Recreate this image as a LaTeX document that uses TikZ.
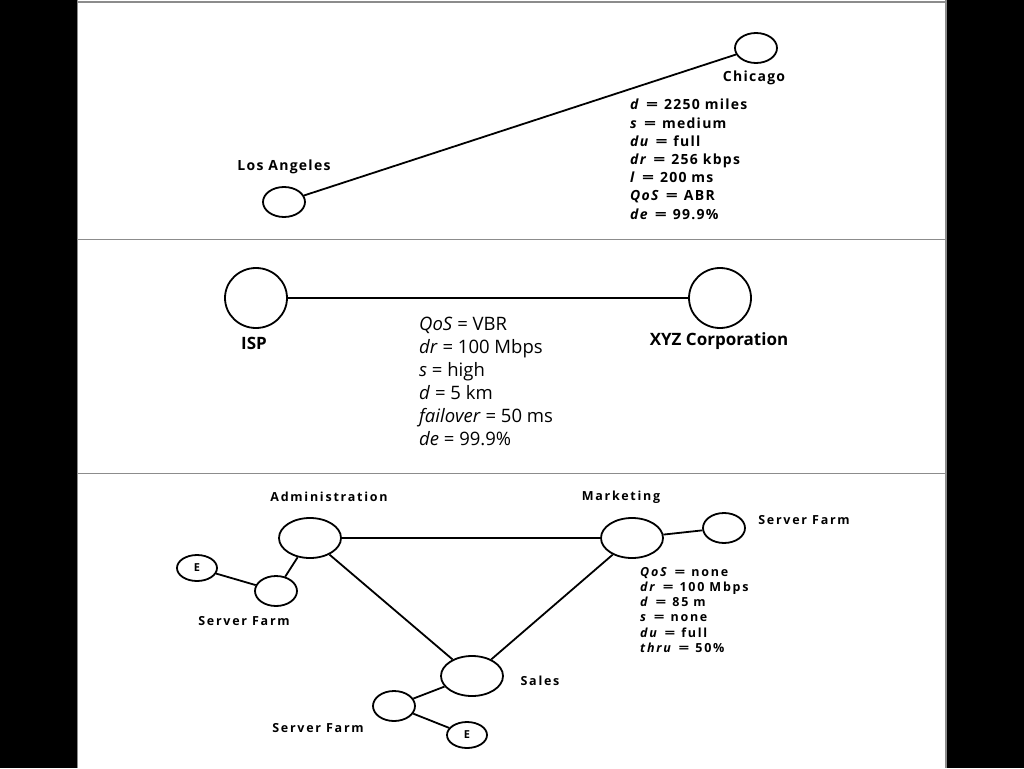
\documentclass[tikz,border=0pt]{standalone}
\usepackage{fontspec}
\setmainfont{Open Sans}
\newfontfamily\spA{Open Sans}[LetterSpace=9]
\newfontfamily\spC{Open Sans}[LetterSpace=14]
\newcommand\eqw{\hspace{6pt}\scalebox{1.5}[1]{=}\hspace{6pt}}
\usetikzlibrary{shapes.geometric}
\begin{document}
\begin{tikzpicture}[x=1pt,y=-1pt,
  site/.style={draw=black,line width=1.8pt,ellipse,inner sep=0pt,fill=white},
  big/.style={site,minimum width=62pt,minimum height=60pt},
  mid/.style={site,minimum width=62pt,minimum height=40pt},
  small/.style={site,minimum width=42pt,minimum height=30pt},
  tiny/.style={site,minimum width=40pt,minimum height=26pt,font=\spA\bfseries\fontsize{11}{13}\selectfont},
  link/.style={line width=1.8pt,draw=black},
  frame/.style={draw=black!45,line width=1.5pt},
  lblA/.style={font=\spA\bfseries\fontsize{14}{16}\selectfont,inner sep=0pt},
  lblB/.style={font=\bfseries\fontsize{17}{20}\selectfont,inner sep=0pt},
  lblC/.style={font=\spC\bfseries\fontsize{12.5}{15}\selectfont,inner sep=0pt},
  blockA/.style={font=\spA\bfseries\fontsize{14}{18.2}\selectfont,align=left,inner sep=0pt,anchor=north west},
  blockB/.style={font=\fontsize{18.5}{22.9}\selectfont,align=left,inner sep=0pt,anchor=north west},
  blockC/.style={font=\spC\bfseries\fontsize{12.5}{15.2}\selectfont,align=left,inner sep=0pt,anchor=north west}
]
\useasboundingbox (0,0) rectangle (1024,768);
\fill[black] (0,0) rectangle (77,768);
\fill[black] (947,0) rectangle (1024,768);
\fill[white] (77,0) rectangle (947,768);
\draw[frame] (77.5,2) -- (946,2);
\draw[frame] (77.5,0) -- (77.5,768);
\draw[frame] (946,0) -- (946,768);
\draw[frame] (77.5,239.5) -- (946,239.5);
\draw[frame] (77.5,473.5) -- (946,473.5);

% top panel
\node[small] (chi) at (756,48) {};
\node[small] (la) at (284,202) {};
\draw[link] (la) -- (chi);
\node[lblA] (chil) at (754,78) {Chicago};
\node[lblA] (lal) at (284,167) {Los Angeles};
\node[blockA] (ta) at (630,99) {\textit{d}\eqw 2250 miles\\ \textit{s}\eqw medium\\ \textit{du}\eqw full\\ \textit{dr}\eqw 256 kbps\\ \textit{l}\eqw 200 ms\\ \textit{QoS}\eqw ABR\\ \textit{de}\eqw 99.9\%};

% middle panel
\node[big] (isp) at (256,298) {};
\node[big] (xyz) at (720,298) {};
\draw[link] (isp) -- (xyz);
\node[lblB] (ispl) at (254,343) {ISP};
\node[lblB] (xyzl) at (719,341) {XYZ Corporation};
\node[blockB] (tb) at (419,317) {\textit{QoS} = VBR\\ \textit{dr} = 100 Mbps\\ \textit{s} = high\\ \textit{d} = 5 km\\ \textit{failover} = 50 ms\\ \textit{de} = 99.9\%};

% bottom panel
\node[mid] (adm) at (310,538) {};
\node[mid] (mkt) at (632,538) {};
\node[mid] (sal) at (472,676) {};
\node[small] (sfa) at (276,591) {};
\node[tiny] (ea) at (197,568) {E};
\node[small] (sfm) at (724,528) {};
\node[small] (sfs) at (394,706) {};
\node[tiny] (es) at (467,735) {E};
\draw[link] (adm) -- (mkt);
\draw[link] (adm) -- (sal);
\draw[link] (mkt) -- (sal);
\draw[link] (adm) -- (sfa);
\draw[link] (sfa) -- (ea);
\draw[link] (mkt) -- (sfm);
\draw[link] (sal) -- (sfs);
\draw[link] (sfs) -- (es);
\node[lblC] (adml) at (329,497) {Administration};
\node[lblC] (mktl) at (621,497) {Marketing};
\node[lblC] (sall) at (540,681) {Sales};
\node[lblC] (sfml) at (804,520) {Server Farm};
\node[lblC] (sfal) at (244,621) {Server Farm};
\node[lblC] (sfsl) at (318,728) {Server Farm};
\node[blockC] (tc) at (640,567) {\textit{QoS}\eqw none\\ \textit{dr}\eqw 100 Mbps\\ \textit{d}\eqw 85 m\\ \textit{s}\eqw none\\ \textit{du}\eqw full\\ \textit{thru}\eqw 50\%};
\end{tikzpicture}
\end{document}
